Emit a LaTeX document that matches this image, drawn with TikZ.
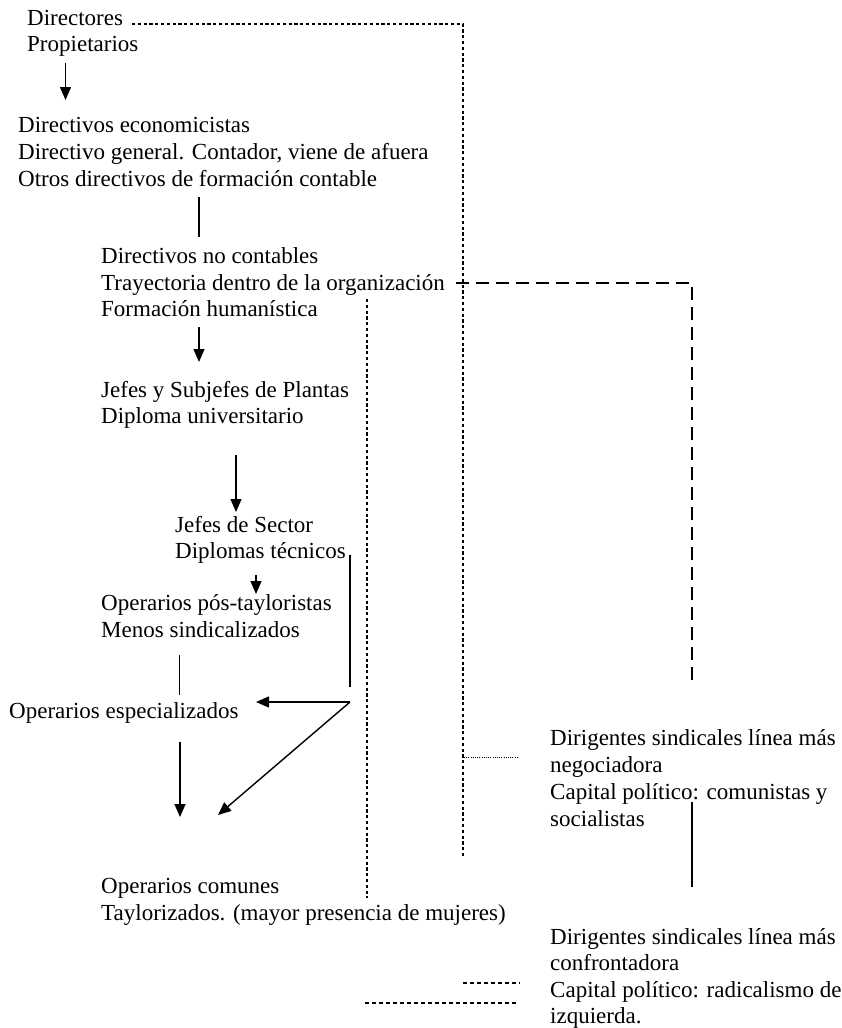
\documentclass[tikz,border=0pt]{standalone}
\usepackage{fontspec}
\setmainfont{Liberation Serif}
\usetikzlibrary{arrows.meta}
\begin{document}
\begin{tikzpicture}[x=1pt,y=-1pt,
  txt/.style={anchor=base west, inner sep=0pt, font=\fontsize{23}{27}\selectfont},
  arr/.style={-{Triangle[length=13pt,width=11pt]}, line width=1.4pt},
  solidln/.style={line width=1.4pt},
  dotln/.style={line width=2pt, dash pattern=on 3.2pt off 2.6pt},
  finedot/.style={line width=1pt, dash pattern=on 1pt off 1.2pt},
  longdash/.style={line width=2pt, dash pattern=on 13pt off 7pt},
  thindash/.style={line width=1.2pt, dash pattern=on 4pt off 3pt}]
\useasboundingbox (0,0) rectangle (842,1028);

% left column texts
\node[txt] (dir) at (27,25.5) {Directores};
\node[txt] (prop) at (27,51.5) {Propietarios};
\node[txt] (de1) at (18,132) {Directivos economicistas};
\node[txt] (de2) at (18,159) {Directivo general. Contador, viene de afuera};
\node[txt] (de3) at (18,186) {Otros directivos de formación contable};
\node[txt] (dn1) at (101,263) {Directivos no contables};
\node[txt] (dn2) at (101,290) {Trayectoria dentro de la organización};
\node[txt] (dn3) at (101,316) {Formación humanística};
\node[txt] (jp1) at (101,397) {Jefes y Subjefes de Plantas};
\node[txt] (jp2) at (101,423) {Diploma universitario};
\node[txt] (js1) at (175,532) {Jefes de Sector};
\node[txt] (js2) at (175,558) {Diplomas técnicos};
\node[txt] (op1) at (101,610) {Operarios pós-tayloristas};
\node[txt] (op2) at (101,637) {Menos sindicalizados};
\node[txt] (oe) at (9,718) {Operarios especializados};
\node[txt] (oc1) at (101,893) {Operarios comunes};
\node[txt] (oc2) at (101,920) {Taylorizados. (mayor presencia de mujeres)};

% right column texts
\node[txt] (dn) at (550,745) {Dirigentes sindicales línea más};
\node[txt] (dnb) at (550,772) {negociadora};
\node[txt] (dnc) at (550,799) {Capital político: comunistas y};
\node[txt] (dnd) at (550,826) {socialistas};
\node[txt] (dc) at (550,944) {Dirigentes sindicales línea más};
\node[txt] (dcb) at (550,970) {confrontadora};
\node[txt] (dcc) at (550,997) {Capital político: radicalismo de};
\node[txt] (dcd) at (550,1023) {izquierda.};

% coordinates for connectors
\coordinate (a1s) at (65.5,63);  \coordinate (a1e) at (65.5,100);
\coordinate (l2s) at (199,197);  \coordinate (l2e) at (199,237);
\coordinate (a3s) at (199,327);  \coordinate (a3e) at (199,362);
\coordinate (a4s) at (236,455);  \coordinate (a4e) at (236,512);
\coordinate (a5s) at (256,575);  \coordinate (a5e) at (256,594);
\coordinate (l6s) at (179.5,655); \coordinate (l6e) at (179.5,695);
\coordinate (a7s) at (180,742);  \coordinate (a7e) at (180,817);
\coordinate (l8s) at (350,555);  \coordinate (l8e) at (350,687);
\coordinate (fork) at (350,702);
\coordinate (a9e) at (256,702);
\coordinate (a10e) at (218,815);
\coordinate (l11s) at (692,802); \coordinate (l11e) at (692,887);

\coordinate (dA0) at (132,24); \coordinate (dA1) at (463,24); \coordinate (dA2) at (463,857);
\coordinate (dB0) at (464,757); \coordinate (dB1) at (519,757);
\coordinate (dC0) at (367,299); \coordinate (dC1) at (367,898);
\coordinate (dD0) at (456,283); \coordinate (dD1) at (692,283); \coordinate (dD2) at (692,680);
\coordinate (dE0) at (463,983); \coordinate (dE1) at (520,983);
\coordinate (dF0) at (365,1003); \coordinate (dF1) at (516,1003);

% solid connectors
\draw[arr] (a1s) -- (a1e);
\draw[solidln] (l2s) -- (l2e);
\draw[arr] (a3s) -- (a3e);
\draw[arr] (a4s) -- (a4e);
\draw[arr] (a5s) -- (a5e);
\draw[solidln] (l6s) -- (l6e);
\draw[arr] (a7s) -- (a7e);
\draw[solidln] (l8s) -- (l8e);
\draw[arr] (fork) -- (a9e);
\draw[arr] (fork) -- (a10e);
\draw[solidln] (l11s) -- (l11e);

% dotted and dashed connectors
\draw[dotln] (dA0) -- (dA1) -- (dA2);
\draw[finedot] (dB0) -- (dB1);
\draw[dotln] (dC0) -- (dC1);
\draw[longdash] (dD0) -- (dD1) -- (dD2);
\draw[thindash] (dE0) -- (dE1);
\draw[thindash] (dF0) -- (dF1);
\end{tikzpicture}
\end{document}
